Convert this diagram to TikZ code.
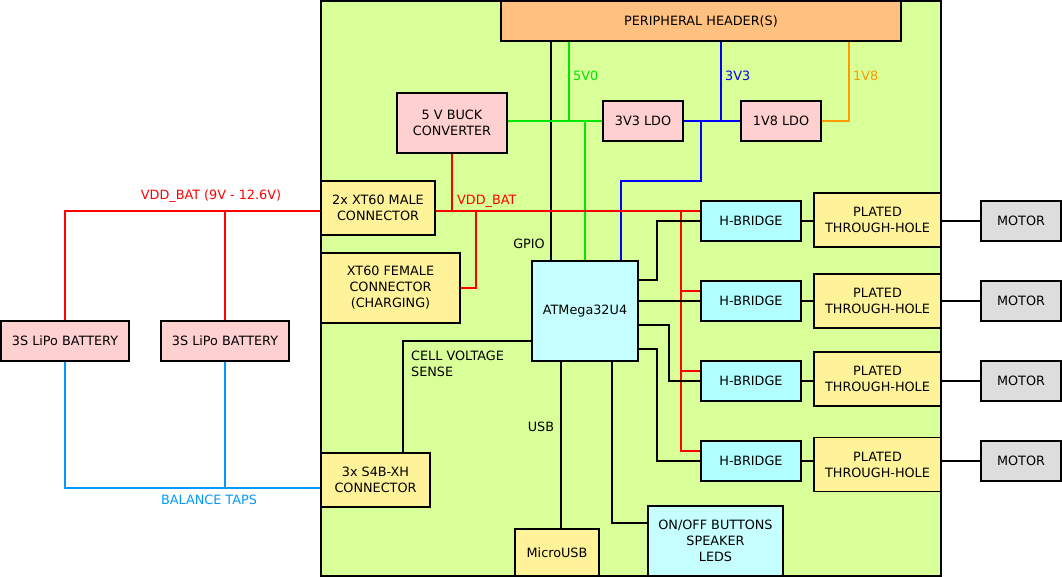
\documentclass[tikz,border=0pt]{standalone}
\usepackage{fontspec}
\setmainfont{DejaVu Sans}
\usepackage{tikz}
\usetikzlibrary{calc}
\definecolor{boardG}{RGB}{216,255,152}
\definecolor{hdrO}{RGB}{255,192,128}
\definecolor{pwrP}{RGB}{255,208,208}
\definecolor{conY}{RGB}{255,243,153}
\definecolor{mcuC}{RGB}{198,255,255}
\definecolor{hbC}{RGB}{178,255,255}
\definecolor{motG}{RGB}{221,221,221}
\definecolor{wireR}{RGB}{255,0,0}
\definecolor{wireG}{RGB}{0,230,0}
\definecolor{wireB}{RGB}{0,0,255}
\definecolor{wireO}{RGB}{255,153,0}
\definecolor{wireT}{RGB}{0,153,255}
\tikzset{blk/.style={draw, line width=1.8pt, align=center, inner sep=0pt, font=\fontsize{12.8}{16}\selectfont},
  wire/.style={line width=1.6pt},
  lbl/.style={font=\fontsize{12.8}{16}\selectfont, inner sep=0pt}}

\begin{document}
\begin{tikzpicture}[x=1pt, y=-1pt]
\useasboundingbox (0,0) rectangle (1062,577);
% Board outline
\draw[line width=1.8pt, fill=boardG] (321,1) rectangle (941,576);
% Power blocks
\node[blk, fill=hdrO, minimum width=400pt, minimum height=40pt] (header) at (701,21) {PERIPHERAL HEADER(S)};
\node[blk, fill=pwrP, minimum width=110pt, minimum height=60pt] (buck) at (452,123) {5 V BUCK\\CONVERTER};
\node[blk, fill=pwrP, minimum width=80pt, minimum height=40pt] (ldoA) at (643,121) {3V3 LDO};
\node[blk, fill=pwrP, minimum width=80pt, minimum height=40pt] (ldoB) at (781,121) {1V8 LDO};
% Connectors on the board
\node[blk, fill=conY, minimum width=114pt, minimum height=54pt] (xtmale) at (378,208) {2x XT60 MALE\\CONNECTOR};
\node[blk, fill=conY, minimum width=139pt, minimum height=70pt] (xtfem) at (390.5,288) {XT60 FEMALE\\CONNECTOR\\(CHARGING)};
\node[blk, fill=conY, minimum width=109pt, minimum height=54pt] (s4b) at (375.5,480) {3x S4B-XH\\CONNECTOR};
\node[blk, fill=conY, minimum width=84pt, minimum height=47pt] (usb) at (557,552.5) {MicroUSB};
% Controller
\node[blk, fill=mcuC, minimum width=106pt, minimum height=100pt] (mcu) at (585,311) {ATMega32U4};
\node[blk, fill=mcuC, minimum width=135pt, minimum height=70pt] (ui) at (715.5,541) {ON/OFF BUTTONS\\SPEAKER\\LEDS};
% Motor channels
\foreach \i/\y/\p in {1/221/220, 2/301/301, 3/381/379, 4/461/464.5} {
  \node[blk, fill=hbC, minimum width=100pt, minimum height=40pt] (hb\i) at (751,\y) {H-BRIDGE};
  \node[blk, fill=conY, minimum width=127pt, minimum height=54pt] (pth\i) at (877.5,\p) {PLATED\\THROUGH-HOLE};
  \node[blk, fill=motG, minimum width=80pt, minimum height=40pt] (mot\i) at (1021,\y) {MOTOR};
  \draw[wire] (hb\i.east) -- (pth\i.west |- hb\i.east);
  \draw[wire] (pth\i.east |- mot\i.west) -- (mot\i.west);
}
% Batteries
\node[blk, fill=pwrP, minimum width=128pt, minimum height=40pt] (bat1) at (65,341) {3S LiPo BATTERY};
\node[blk, fill=pwrP, minimum width=128pt, minimum height=40pt] (bat2) at (225,341) {3S LiPo BATTERY};
% Supply rails
\draw[wire] (551,0 |- header.south) -- (551,0 |- mcu.north);
\node[lbl, anchor=east] (gpio) at (545,244) {GPIO};
\draw[wire, wireG] (569,0 |- header.south) -- (569,0 |- ldoA.west);
\draw[wire, wireG] (buck.east |- ldoA.west) -- (ldoA.west);
\draw[wire, wireG] (585,0 |- ldoA.west) -- (585,0 |- mcu.north);
\node[lbl, wireG, anchor=west] (v5) at (573,76) {5V0};
\draw[wire, wireB] (ldoA.east) -- (ldoB.west);
\draw[wire, wireB] (721,0 |- header.south) -- (721,0 |- ldoA.east);
\draw[wire, wireB] (701,0 |- ldoA.east) |- (621,181) -- (621,0 |- mcu.north);
\node[lbl, wireB, anchor=west] (v33) at (725,76) {3V3};
\draw[wire, wireO] (ldoB.east) -| (849,0 |- header.south);
\node[lbl, wireO, anchor=west] (v18) at (853,76) {1V8};
% Battery rail
\draw[wire, wireR] (xtmale.east |- 0,211) -- (hb1.west |- 0,211);
\foreach \i/\y in {2/291, 3/371, 4/451}
  \draw[wire, wireR] (681,211) |- (hb\i.west |- 0,\y);
\draw[wire, wireR] (buck.south) -- (buck.south |- 0,211);
\draw[wire, wireR] (xtfem.east) -| (476,211);
\node[lbl, wireR, anchor=west] (vbat) at (457,201) {VDD\_BAT};
\draw[wire, wireR] (xtmale.west |- 0,211) -| (bat1.north);
\draw[wire, wireR] (bat2.north) -- (bat2.north |- 0,211);
\node[lbl, wireR] (vbatL) at (211,196) {VDD\_BAT (9V - 12.6V)};
% Balance taps
\draw[wire, wireT] (bat1.south) |- (s4b.west |- 0,488);
\draw[wire, wireT] (bat2.south) -- (bat2.south |- 0,488);
\node[lbl, wireT] (bal) at (209,500) {BALANCE TAPS};
\draw[wire] (403,0 |- s4b.north) |- (mcu.west |- 0,341);
\node[lbl, anchor=north west, align=left] (sense) at (411,351) {CELL VOLTAGE\\SENSE};
% MCU signals
\draw[wire] (561,0 |- mcu.south) -- (561,0 |- usb.north);
\node[lbl] (usbl) at (541,427) {USB};
\draw[wire] (612,0 |- mcu.south) |- (ui.west |- 0,523);
\draw[wire] (mcu.east |- 0,280) -| (657,221) -- (hb1.west);
\draw[wire] (mcu.east |- hb2.west) -- (hb2.west);
\draw[wire] (mcu.east |- 0,325) -| (669,381) -- (hb3.west);
\draw[wire] (mcu.east |- 0,349) -| (657,461) -- (hb4.west);
\end{tikzpicture}
\end{document}
